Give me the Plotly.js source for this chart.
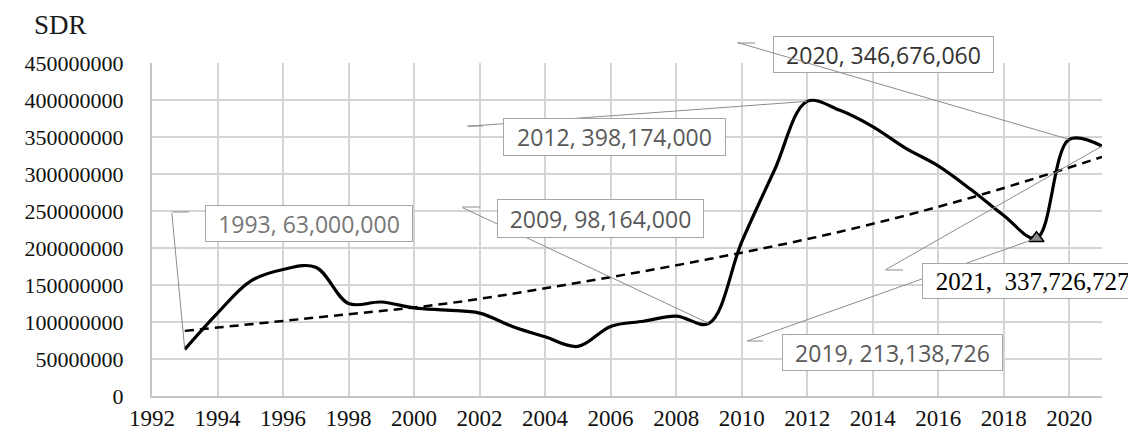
<!DOCTYPE html>
<html>
<head>
<meta charset="utf-8">
<script src="https://cdn.plot.ly/plotly-3.0.1.min.js"></script>
<style>html,body{margin:0;padding:0;background:#fff;}#chart{width:1128px;height:434px;}</style>
</head>
<body>
<div id="chart"></div>
<script>
// ---- data ----
const years = [1993,1994,1995,1996,1997,1998,1999,2000,2001,2002,2003,2004,2005,2006,2007,
               2008,2009,2010,2011,2012,2013,2014,2015,2016,2017,2018,2019,2020,2021];
const sdr = [63000000,112000000,155000000,171000000,174000000,125000000,127000000,119000000,
             116000000,112000000,94000000,80000000,67000000,94000000,101000000,108000000,
             98164000,208000000,305000000,398174000,386000000,364000000,335000000,311000000,
             279000000,244000000,213138726,346676060,337726727];
const trendYears = [1993,1997,2001,2005,2009,2013,2017,2021];
const trendValues = [88000000,106000000,125000000,153000000,185000000,222000000,268000000,323000000];
const labelYears = [1993,2012,2009,2020,2021,2019];
const labelTexts = ["1993, 63,000,000","2012, 398,174,000","2009, 98,164,000",
                    "2020, 346,676,060","2021,&nbsp; 337,726,727","2019, 213,138,726"];
const yTitle = "SDR";
const markYear = 2019;

// ---- layout helpers (pixel -> paper) ----
const L = 152, R = 26, T = 63, B = 38, W = 1128, H = 434;
const PW = W - L - R, PH = H - T - B;
const px = v => (v - L) / PW;
const py = v => (H - B - v) / PH;
const val = yr => sdr[years.indexOf(yr)];

const sansFont = {family: 'Open Sans, Liberation Sans, sans-serif', size: 23};
function box(i, cx, cy, w, h, color, font) {
  return {xref:'paper', yref:'paper', x: px(cx), y: py(cy), xanchor:'center', yanchor:'middle',
    text: labelTexts[i], showarrow:false, width: w - 8, height: h - 8,
    bgcolor:'#ffffff', bordercolor:'#a6a6a6', borderwidth:1, borderpad:3,
    font: Object.assign({}, font || sansFont, {color: color})};
}
function leader(yr, ax, ay) {
  return {xref:'x', yref:'y', x: yr, y: val(yr), ax: ax, ay: ay, text:'', showarrow:true,
    arrowhead:0, arrowwidth:1, arrowcolor:'#8c8c8c', standoff:0, startstandoff:0, borderpad:0};
}
function tick(ex, ey, len) {
  return {xref:'paper', yref:'paper', x: px(ex + len), y: py(ey), ax: -len, ay: 0, text:'',
    showarrow:true, arrowhead:0, arrowwidth:1, arrowcolor:'#8c8c8c', standoff:0, borderpad:0};
}

const traces = [
  {x: trendYears, y: trendValues, mode:'lines', hoverinfo:'skip',
   line:{color:'#000', width:2.5, dash:'9px,6px', shape:'spline', smoothing:1}},
  {x: years, y: sdr, mode:'lines', hoverinfo:'skip',
   line:{color:'#000', width:3.2, shape:'spline', smoothing:1}},
  {x: [markYear], y: [val(markYear)], mode:'markers', hoverinfo:'skip',
   marker:{symbol:'triangle-up', size:13, color:'#8a8a8a', line:{color:'#000', width:1.5}}}
];

const annotations = [
  // leaders drawn beneath their boxes
  leader(2009, -247, -116), tick(462, 207, 18),
  leader(2019, -290, 103), tick(747, 341, 16),
  leader(2012, -340, 25), tick(467, 126, 16),
  leader(1993, -13, -137), tick(172, 212, 17),
  // boxes
  box(0, 309, 223.5, 208, 37, '#767676'),
  box(1, 614.5, 137, 223, 38, '#595959'),
  box(2, 600.5, 218.5, 207, 39, '#595959'),
  box(5, 892.5, 352.5, 221, 37, '#595959'),
  box(4, 1032.5, 281, 221, 36, '#000000', {family:'Liberation Serif, Times New Roman, serif', size:25}),
  box(3, 883.5, 54.5, 221, 37, '#333333'),
  // leaders drawn above
  leader(2020, -332, -97), tick(737, 43, 18),
  leader(2021, -217, 124), tick(885, 270, 18),
  // axis title
  {xref:'paper', yref:'paper', x: px(60), y: py(24.5), xanchor:'center', yanchor:'middle',
   text: yTitle, showarrow:false,
   font:{family:'Liberation Serif, Times New Roman, serif', size:27, color:'#1a1a1a'}}
];

const layout = {
  width: W, height: H,
  margin: {l: L, r: R, t: T, b: B, pad: 0},
  paper_bgcolor:'#ffffff', plot_bgcolor:'#ffffff',
  showlegend:false,
  xaxis: {range:[1992, 2021], tick0:1992, dtick:2, showgrid:true, gridcolor:'#d4d4d4', gridwidth:2,
          zeroline:false, showline:true, linecolor:'#c4c4c4', linewidth:2, ticks:'',
          ticklabelstandoff: 0,
          tickfont:{family:'Liberation Serif, Times New Roman, serif', size:23, color:'#111'}},
  yaxis: {range:[0, 450000000], dtick:50000000, tickformat:'d', showgrid:true, gridcolor:'#d4d4d4',
          gridwidth:2, zeroline:false, showline:true, linecolor:'#c4c4c4', linewidth:2, ticks:'',
          ticklabelstandoff: 22,
          tickfont:{family:'Liberation Serif, Times New Roman, serif', size:22, color:'#111'}},
  annotations: annotations
};

Plotly.newPlot('chart', traces, layout, {staticPlot:true, displayModeBar:false});
</script>
</body>
</html>
